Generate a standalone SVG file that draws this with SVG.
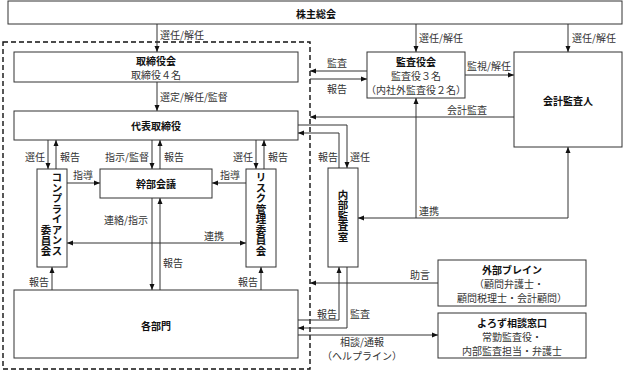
<svg xmlns="http://www.w3.org/2000/svg" width="624" height="371" viewBox="0 0 624 371">
<defs>
<style>
.box{fill:#fff;stroke:#333;stroke-width:1}
.t{font-family:"Noto Sans CJK JP","Liberation Sans",sans-serif;font-size:10px;fill:#111;font-weight:700;text-anchor:middle;dominant-baseline:central}
.s{font-family:"Noto Sans CJK JP","Liberation Sans",sans-serif;font-size:10px;fill:#333;text-anchor:middle;dominant-baseline:central}
.l{font-family:"Noto Sans CJK JP","Liberation Sans",sans-serif;font-size:10px;fill:#333;dominant-baseline:central}
.v{font-family:"Noto Sans CJK JP","Liberation Sans",sans-serif;font-size:10.5px;fill:#111;font-weight:700;writing-mode:vertical-rl;text-anchor:middle}
.c{fill:none;stroke:#333;stroke-width:1}
.a{marker-end:url(#ah)}
.b{marker-start:url(#ah);marker-end:url(#ah)}
</style>
<marker id="ah" viewBox="0 0 6 6" refX="6" refY="3" markerWidth="6" markerHeight="6" markerUnits="userSpaceOnUse" orient="auto-start-reverse">
<path d="M0,0.5 L6,3 L0,5.5 z" fill="#111"/>
</marker>
</defs>
<rect x="0" y="0" width="624" height="371" fill="#fff"/>

<rect x="3" y="42" width="307" height="327" fill="none" stroke="#111" stroke-width="1.4" stroke-dasharray="5,3"/>

<g id="connectors">
<path class="c a" d="M157,24 V52"/>
<path class="c a" d="M157,82 V111"/>
<path class="c a" d="M48,140 V169"/>
<path class="c a" d="M56,169 V140"/>
<path class="c a" d="M152,140 V169"/>
<path class="c a" d="M160,169 V140"/>
<path class="c a" d="M256,140 V169"/>
<path class="c a" d="M264,169 V140"/>
<path class="c a" d="M67,183 H100"/>
<path class="c a" d="M246,183 H212"/>
<path class="c b" d="M67,243 H246"/>
<path class="c a" d="M152,198 V290"/>
<path class="c a" d="M160,290 V198"/>
<path class="c a" d="M52,290 V267"/>
<path class="c a" d="M261,290 V267"/>
<path class="c a" d="M416,24 V52"/>
<path class="c a" d="M568,24 V52"/>
<path class="c a" d="M367,71 H310"/>
<path class="c a" d="M310,79 H367"/>
<path class="c a" d="M465,75 H514"/>
<path class="c a" d="M514,117 H310"/>
<path class="c a" d="M298,125 H347 V168"/>
<path class="c a" d="M339,168 V133 H298"/>
<path class="c a" d="M416,218 V98"/>
<path class="c a" d="M568,218 V147"/>
<path class="c a" d="M568,218 H358"/>
<path class="c a" d="M438,283 H310"/>
<path class="c a" d="M298,320 H339 V267"/>
<path class="c a" d="M347,267 V328 H298"/>
<path class="c a" d="M298,335 H438"/>
</g>

<g id="labels">
<text class="l" x="160" y="34">選任/解任</text>
<text class="l" x="160" y="96">選定/解任/監督</text>
<text class="l" x="25" y="156">選任</text>
<text class="l" x="60" y="156">報告</text>
<text class="l" x="149" y="156" text-anchor="end">指示/監督</text>
<text class="l" x="164" y="156">報告</text>
<text class="l" x="233" y="156">選任</text>
<text class="l" x="268" y="156">報告</text>
<text class="l" x="73" y="174">指導</text>
<text class="l" x="220" y="174">指導</text>
<text class="l" x="148" y="219" text-anchor="end">連絡/指示</text>
<text class="l" x="204" y="235">連携</text>
<text class="l" x="163" y="262">報告</text>
<text class="l" x="29" y="281">報告</text>
<text class="l" x="238" y="281">報告</text>
<text class="l" x="419" y="37">選任/解任</text>
<text class="l" x="572" y="37">選任/解任</text>
<text class="l" x="327" y="62">監査</text>
<text class="l" x="327" y="88">報告</text>
<text class="l" x="467" y="65">監視/解任</text>
<text class="l" x="447" y="109">会計監査</text>
<text class="l" x="318" y="156">報告</text>
<text class="l" x="350" y="156">選任</text>
<text class="l" x="419" y="210">連携</text>
<text class="l" x="410" y="274">助言</text>
<text class="l" x="317" y="313">報告</text>
<text class="l" x="350" y="313">監査</text>
<text class="s" x="362" y="341">相談/通報</text>
<text class="s" x="362" y="355">（ヘルプライン）</text>
</g>

<g id="shareholders">
<rect class="box" x="8" y="1" width="614" height="23"/>
<text class="t" x="316" y="13">株主総会</text>
</g>
<g id="board">
<rect class="box" x="14" y="52" width="284" height="30"/>
<text class="t" x="156" y="60">取締役会</text>
<text class="s" x="156" y="74">取締役４名</text>
</g>
<g id="ceo">
<rect class="box" x="14" y="111" width="284" height="29"/>
<text class="t" x="156" y="125">代表取締役</text>
</g>
<g id="executive">
<rect class="box" x="100" y="169" width="112" height="29"/>
<text class="t" x="156" y="183">幹部会議</text>
</g>
<g id="compliance">
<rect class="box" x="37" y="169" width="30" height="98"/>
<text class="v" x="57" y="214">コンプライアンス</text>
<text class="v" x="46" y="241">委員会</text>
</g>
<g id="risk">
<rect class="box" x="246" y="169" width="30" height="98"/>
<text class="v" x="261" y="214">リスク管理委員会</text>
</g>
<g id="departments">
<rect class="box" x="14" y="290" width="284" height="68"/>
<text class="t" x="156" y="325">各部門</text>
</g>
<g id="audit-board">
<rect class="box" x="367" y="52" width="98" height="46"/>
<text class="t" x="416" y="61">監査役会</text>
<text class="s" x="416" y="75">監査役３名</text>
<text class="s" x="416" y="89">（内社外監査役２名）</text>
</g>
<g id="accounting-auditor">
<rect class="box" x="514" y="52" width="108" height="95"/>
<text class="t" x="568" y="100">会計監査人</text>
</g>
<g id="internal-audit">
<rect class="box" x="328" y="168" width="30" height="99"/>
<text class="v" x="343" y="216">内部監査室</text>
</g>
<g id="external-brain">
<rect class="box" x="438" y="260" width="148" height="46"/>
<text class="t" x="512" y="269">外部ブレイン</text>
<text class="s" x="509" y="283">（顧問弁護士・</text>
<text class="s" x="512" y="297">顧問税理士・会計顧問）</text>
</g>
<g id="consultation">
<rect class="box" x="438" y="313" width="148" height="45"/>
<text class="t" x="512" y="322">よろず相談窓口</text>
<text class="s" x="512" y="336">常勤監査役・</text>
<text class="s" x="512" y="350">内部監査担当・弁護士</text>
</g>
</svg>
